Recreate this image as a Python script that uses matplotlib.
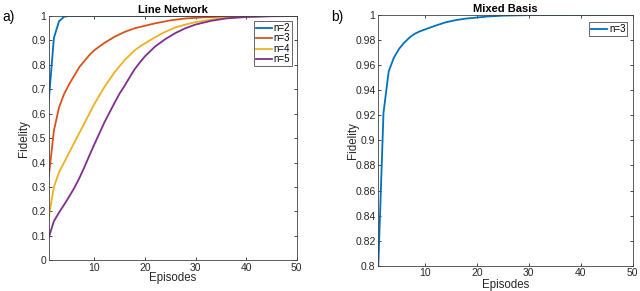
import matplotlib
matplotlib.use("Agg")
import matplotlib.pyplot as plt
from matplotlib.ticker import FormatStrFormatter

plt.rcParams['font.family'] = ['Liberation Sans', 'DejaVu Sans']

# Line Network panel (episodes, fidelity)
ep_n2 = [1, 2, 3, 4, 5, 50]
fid_n2 = [0.656, 0.91, 0.978, 0.997, 1.0, 1.0]

ep_n3 = [1, 2, 3, 4, 5, 6, 7, 8, 9, 10, 12, 14, 16, 18, 20, 22, 25, 28, 32, 36, 40, 50]
fid_n3 = [0.345, 0.53, 0.625, 0.68, 0.72, 0.755, 0.79, 0.815, 0.84, 0.86, 0.89, 0.915,
          0.935, 0.95, 0.96, 0.97, 0.982, 0.99, 0.995, 0.998, 1.0, 1.0]

ep_n4 = [1, 2, 3, 4, 5, 6, 7, 8, 9, 10, 11, 12, 13, 14, 15, 16, 17, 18, 19, 20,
         22, 24, 26, 28, 30, 33, 36, 40, 45, 50]
fid_n4 = [0.178, 0.30, 0.36, 0.40, 0.44, 0.48, 0.52, 0.56, 0.60, 0.64, 0.675, 0.71,
          0.74, 0.77, 0.795, 0.82, 0.84, 0.86, 0.875, 0.888, 0.913, 0.935, 0.953, 0.965,
          0.975, 0.985, 0.992, 0.997, 1.0, 1.0]

ep_n5 = [1, 2, 3, 4, 5, 6, 7, 8, 9, 10, 11, 12, 13, 14, 15, 16, 17, 18, 19, 20,
         21, 22, 23, 24, 26, 28, 30, 33, 36, 40, 45, 50]
fid_n5 = [0.094, 0.16, 0.195, 0.227, 0.26, 0.295, 0.335, 0.38, 0.428, 0.475, 0.52, 0.565,
          0.605, 0.645, 0.683, 0.715, 0.75, 0.783, 0.81, 0.835, 0.855, 0.875, 0.89, 0.905,
          0.93, 0.95, 0.965, 0.98, 0.99, 0.996, 0.999, 1.0]

# Mixed Basis panel
ep_mix = [1, 2, 3, 4, 5, 6, 7, 8, 9, 10, 12, 14, 16, 18, 20, 22, 25, 30, 40, 50]
fid_mix = [0.80, 0.922, 0.955, 0.966, 0.973, 0.978, 0.982, 0.985, 0.987, 0.9885, 0.9915,
           0.9942, 0.996, 0.9972, 0.998, 0.9988, 0.9995, 0.9999, 1.0, 1.0]

left_labels = ["n=2", "n=3", "n=4", "n=5"]
colors = ["#0072BD", "#D95319", "#EDB120", "#7E2F8E"]

fig = plt.figure(figsize=(6.4, 2.91), dpi=100)
ax1 = fig.add_axes([0.0763, 0.1055, 0.3873, 0.8395])
ax2 = fig.add_axes([0.5911, 0.0869, 0.3975, 0.8615])

series = [(ep_n2, fid_n2), (ep_n3, fid_n3), (ep_n4, fid_n4), (ep_n5, fid_n5)]
for (x, y), lab, c in zip(series, left_labels, colors):
    ax1.plot(x, y, color=c, lw=1.3, label=lab)
ax2.plot(ep_mix, fid_mix, color=colors[0], lw=1.3, label="n=3")

ax1.set_ylim(0, 1)
ax1.set_yticks([i / 10 for i in range(11)])
ax2.set_ylim(0.8, 1)
ax2.set_yticks([0.8 + 0.02 * i for i in range(11)])

for ax, title in [(ax1, "Line Network"), (ax2, "Mixed Basis")]:
    ax.set_xlim(1, 50)
    ax.set_xticks([10, 20, 30, 40, 50])
    ax.yaxis.set_major_formatter(FormatStrFormatter('%g'))
    ax.tick_params(direction='in', length=2.5, width=0.6, labelsize=7.5,
                   top=True, right=True, colors='0.15', pad=2)
    for s in ax.spines.values():
        s.set_color('0.25')
        s.set_linewidth(0.6)
    ax.set_title(title, fontsize=8, fontweight='bold', pad=2.5)
    ax.set_xlabel("Episodes", fontsize=8.3, color='0.15')
    ax.set_ylabel("Fidelity", fontsize=8.3, color='0.15')
    ax.xaxis.label.set_va('center')
    ax.yaxis.label.set_va('center')

ax1.xaxis.set_label_coords(0.5, -0.072)
ax1.yaxis.set_label_coords(-0.102, 0.5)
ax2.xaxis.set_label_coords(0.5, -0.075)
ax2.yaxis.set_label_coords(-0.0995, 0.5)

leg_kw = dict(loc='upper right', fontsize=7, handlelength=1.7, handletextpad=0.15,
              borderaxespad=0, borderpad=0.2, labelspacing=0.05, fancybox=False,
              framealpha=1, edgecolor='0.3')
l1 = ax1.legend(bbox_to_anchor=(0.981, 0.9795), **leg_kw)
l2 = ax2.legend(bbox_to_anchor=(0.979, 0.972), **leg_kw)
for l in (l1, l2):
    l.get_frame().set_linewidth(0.6)

fig.text(2 / 640, 1 - 17 / 291, "a)", fontsize=10, va='center', ha='left')
fig.text(331 / 640, 1 - 17 / 291, "b)", fontsize=10, va='center', ha='left')

fig.savefig("out.png", dpi=100)
